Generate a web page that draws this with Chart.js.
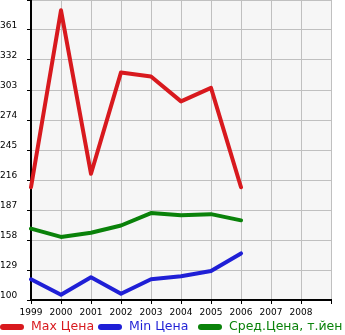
<!DOCTYPE html>
<html>
<head>
<meta charset="utf-8">
<script src="https://cdn.jsdelivr.net/npm/chart.js@4/dist/chart.umd.min.js"></script>
<style>
  html, body { margin: 0; padding: 0; background: #fff; }
  #wrap { width: 345px; height: 335px; }
</style>
</head>
<body>
<div id="wrap"><canvas id="chart" width="345" height="335"></canvas></div>
<script>
// years on the x axis (one empty slot closes the grid on the right)
const years = ['1999', '2000', '2001', '2002', '2003', '2004', '2005', '2006', '2007', '2008'];
// prices, thousand yen
const maxPrice = [209, 380, 222, 320, 316, 292, 305, 209];
const minPrice = [120, 105, 122, 106, 120, 123, 128, 145];
const avgPrice = [169, 161, 165, 172, 184, 182, 183, 177];
const yTicks = [100, 129, 158, 187, 216, 245, 274, 303, 332, 361, 390];

const seriesNames = ['Max Цена', 'Min Цена', 'Сред.Цена, т.йен'];
const seriesColors = ['#d8191e', '#1f1fd6', '#0a820a'];

const font = "'DejaVu Sans', Verdana, sans-serif";

// grey plot background
const plotBg = {
  id: 'plotBg',
  beforeDraw(chart) {
    const { ctx, chartArea: a } = chart;
    ctx.save();
    ctx.fillStyle = '#f6f6f6';
    ctx.fillRect(a.left, a.top, a.right - a.left, a.bottom - a.top);
    ctx.restore();
  }
};

// legend row under the axis: line sample + coloured name
const legendX = [0, 98, 198];
const bottomLegend = {
  id: 'bottomLegend',
  afterDraw(chart) {
    const ctx = chart.ctx;
    const y = 327;
    ctx.save();
    ctx.font = '12.5px ' + font;
    ctx.textBaseline = 'middle';
    chart.data.datasets.forEach((ds, i) => {
      const x = legendX[i];
      ctx.strokeStyle = ds.borderColor;
      ctx.lineWidth = 6;
      ctx.lineCap = 'round';
      ctx.beginPath();
      ctx.moveTo(x + 3, y);
      ctx.lineTo(x + 21, y);
      ctx.stroke();
      ctx.fillStyle = ds.borderColor;
      ctx.fillText(ds.label, x + 31, y);
    });
    ctx.restore();
  }
};

const mk = (i, data) => ({
  label: seriesNames[i],
  data: data,
  borderColor: seriesColors[i],
  backgroundColor: seriesColors[i],
  borderWidth: 4,
  borderCapStyle: 'round',
  borderJoinStyle: 'round',
  pointRadius: 0,
  tension: 0
});

new Chart(document.getElementById('chart'), {
  type: 'line',
  data: {
    labels: [...years, ''],
    datasets: [mk(0, maxPrice), mk(1, minPrice), mk(2, avgPrice)]
  },
  options: {
    responsive: false,
    animation: false,
    layout: { padding: { top: 0, right: 14, bottom: 0, left: 0 } },
    plugins: { legend: { display: false }, tooltip: { enabled: false } },
    scales: {
      x: {
        offset: false,
        grid: { color: '#c0c0c0', lineWidth: 1, tickColor: '#000', tickLength: 4 },
        border: { color: '#000', width: 2 },
        ticks: {
          color: '#000', font: { family: font, size: 9 },
          maxRotation: 0, autoSkip: false, padding: 3
        },
        afterFit(s) { s.height = 35; s.paddingLeft = 0; s.paddingRight = 0; }
      },
      y: {
        min: 100, max: 390,
        afterBuildTicks(s) { s.ticks = yTicks.map(v => ({ value: v })); },
        grid: { color: '#c0c0c0', lineWidth: 1, tickColor: '#000', tickLength: 4 },
        border: { color: '#000', width: 2 },
        ticks: {
          color: '#000', font: { family: font, size: 9 },
          crossAlign: 'far', labelOffset: -4,
          callback: v => (v === 390 ? '' : v)
        },
        afterFit(s) { s.width = 31; s.paddingTop = 0; s.paddingBottom = 0; }
      }
    }
  },
  plugins: [plotBg, bottomLegend]
});
</script>
</body>
</html>
